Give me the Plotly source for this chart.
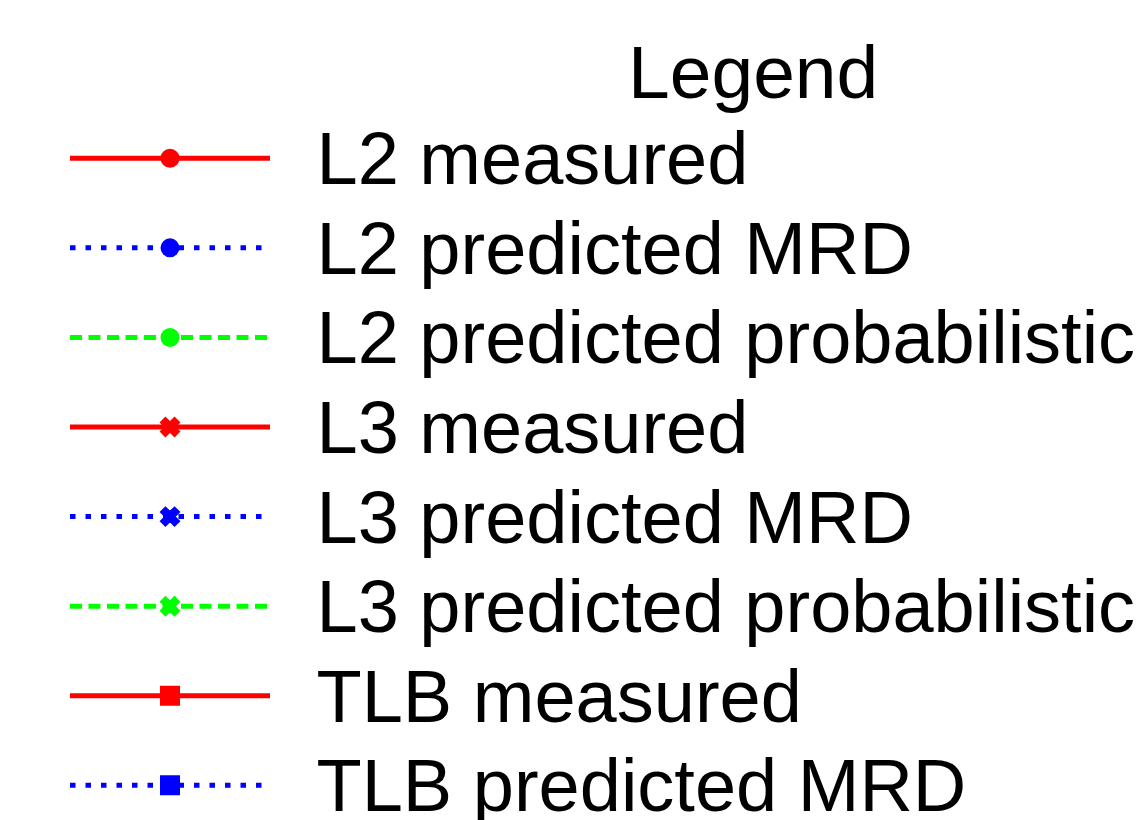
import plotly.graph_objects as go

series_names = [
    "L2 measured", "L2 predicted MRD", "L2 predicted probabilistic",
    "L3 measured", "L3 predicted MRD", "L3 predicted probabilistic",
    "TLB measured", "TLB predicted MRD",
]
series_colors = ["#ff0000", "#0000ff", "#00ff00",
                 "#ff0000", "#0000ff", "#00ff00",
                 "#ff0000", "#0000ff"]
series_dash = ["solid", "5.5px,10px", "12px,6.5px",
               "solid", "5.5px,10px", "12px,6.5px",
               "solid", "5.5px,10px"]
series_symbols = ["circle", "circle", "circle", "x", "x", "x", "square", "square"]
legend_title = "Legend"

W, H = 1144, 820
TEXT_PX = 74      # visible glyph size
ROW_FONT = 66.6   # legend font size that sets the row pitch
SPACER = '<span style="font-size:83px">\u2002</span>'
OUTLINE = {"circle": 3, "x": 2, "square": 4}

fig = go.Figure()
for name, col, dash, sym in zip(series_names, series_colors, series_dash, series_symbols):
    fig.add_trace(go.Scatter(
        x=[None], y=[None], mode="lines+markers",
        name=f'{SPACER}<span style="font-size:{TEXT_PX}px">{name}</span>',
        line=dict(color=col, width=5, dash=dash),
        marker=dict(color=col, symbol=sym, size=16,
                    line=dict(color=col, width=OUTLINE[sym])),
        showlegend=True,
    ))

fig.add_annotation(
    text=legend_title, xref="paper", yref="paper",
    x=753 / W, y=1 - 72 / H, xanchor="center", yanchor="middle",
    showarrow=False, font=dict(size=75, color="black"),
)

fig.update_layout(
    width=W, height=H,
    margin=dict(l=0, r=0, t=0, b=0, autoexpand=False),
    paper_bgcolor="white", plot_bgcolor="white",
    xaxis=dict(visible=False, range=[0, 1]),
    yaxis=dict(visible=False, range=[0, 1]),
    font=dict(family="Liberation Sans, Arial, sans-serif", color="black"),
    legend=dict(
        xref="container", yref="container", x=65 / W, y=1 - 108.5 / H,
        xanchor="left", yanchor="top",
        itemwidth=200, itemsizing="trace", maxheight=4000,
        font=dict(size=ROW_FONT, color="black"),
        bgcolor="rgba(0,0,0,0)", tracegroupgap=0,
    ),
)
fig.write_html("out.html")
